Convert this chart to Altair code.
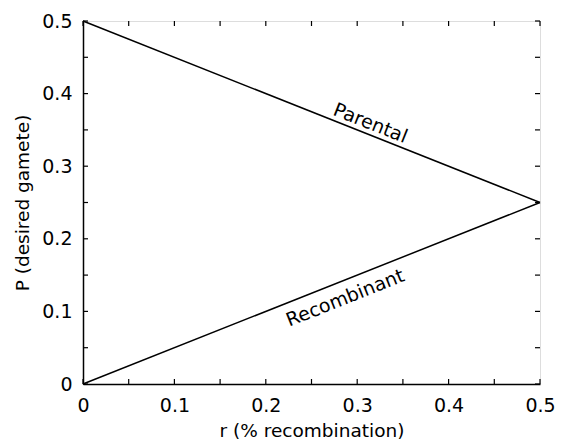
import altair as alt
import pandas as pd

r_vals = [0.0, 0.5]
parental = [0.5, 0.25]
recombinant = [0.0, 0.25]
tick_vals = [0.0, 0.05, 0.1, 0.15, 0.2, 0.25, 0.3, 0.35, 0.4, 0.45, 0.5]
label_vals = [0.0, 0.1, 0.2, 0.3, 0.4, 0.5]
line_labels = ["Parental", "Recombinant"]
label_r = [0.31, 0.28]
label_p = [0.345, 0.14]

W, H = 457, 363
FONT = "DejaVu Sans"

lines_df = pd.DataFrame({
    "r": r_vals * 2,
    "p": parental + recombinant,
    "series": ["Parental"] * 2 + ["Recombinant"] * 2,
})
ticks_df = pd.DataFrame({"v": tick_vals})

xs = alt.Scale(domain=[0, 0.5], nice=False, zero=False)
ys = alt.Scale(domain=[0, 0.5], nice=False, zero=False)

xaxis = alt.Axis(values=label_vals, format=".1~f", ticks=False, grid=False, labelFlush=False,
                 labelFontSize=19, labelFont=FONT, labelColor="black", labelPadding=12,
                 domainColor="black", domainWidth=1.5,
                 title="r (% recombination)", titleFontSize=18.5, titleFont=FONT,
                 titleFontWeight="normal", titleColor="black", titlePadding=6)
yaxis = alt.Axis(values=label_vals, format=".1~f", ticks=False, grid=False, labelFlush=False,
                 labelFontSize=19, labelFont=FONT, labelColor="black", labelPadding=11,
                 domainColor="black", domainWidth=1.5,
                 title="P (desired gamete)", titleFontSize=18.5, titleFont=FONT,
                 titleFontWeight="normal", titleColor="black", titlePadding=9)

lines = alt.Chart(lines_df).mark_line(color="black", strokeWidth=1.5).encode(
    x=alt.X("r:Q", scale=xs, axis=xaxis),
    y=alt.Y("p:Q", scale=ys, axis=yaxis),
    detail="series:N",
)

tick_len = 5
bottom = alt.Chart(ticks_df).mark_rule(color="black", strokeWidth=1.2).encode(
    x=alt.X("v:Q", scale=xs), y=alt.value(H), y2=alt.value(H - tick_len))
top = alt.Chart(ticks_df).mark_rule(color="black", strokeWidth=1.2).encode(
    x=alt.X("v:Q", scale=xs), y=alt.value(0), y2=alt.value(tick_len))
left = alt.Chart(ticks_df).mark_rule(color="black", strokeWidth=1.2).encode(
    y=alt.Y("v:Q", scale=ys), x=alt.value(0), x2=alt.value(tick_len))
right = alt.Chart(ticks_df).mark_rule(color="black", strokeWidth=1.2).encode(
    y=alt.Y("v:Q", scale=ys), x=alt.value(W), x2=alt.value(W - tick_len))

t1 = alt.Chart(pd.DataFrame({"r": [label_r[0]], "p": [label_p[0]], "t": [line_labels[0]]})).mark_text(
    font=FONT, fontSize=19, angle=21.7, baseline="bottom", align="center", dy=-1, color="black"
).encode(x=alt.X("r:Q", scale=xs), y=alt.Y("p:Q", scale=ys), text="t:N")
t2 = alt.Chart(pd.DataFrame({"r": [label_r[1]], "p": [label_p[1]], "t": [line_labels[1]]})).mark_text(
    font=FONT, fontSize=19, angle=338.3, baseline="top", align="center", dy=8, color="black"
).encode(x=alt.X("r:Q", scale=xs), y=alt.Y("p:Q", scale=ys), text="t:N")

chart = alt.layer(lines, bottom, top, left, right, t1, t2).properties(
    width=W, height=H,
    padding={"left": 83, "top": 21, "right": 21, "bottom": 59},
    autosize=alt.AutoSizeParams(type="none"),
).configure_view(stroke="black", strokeWidth=1.5).configure(background="white")

chart.save("out.html", embed_options={"renderer": "svg", "actions": False})
